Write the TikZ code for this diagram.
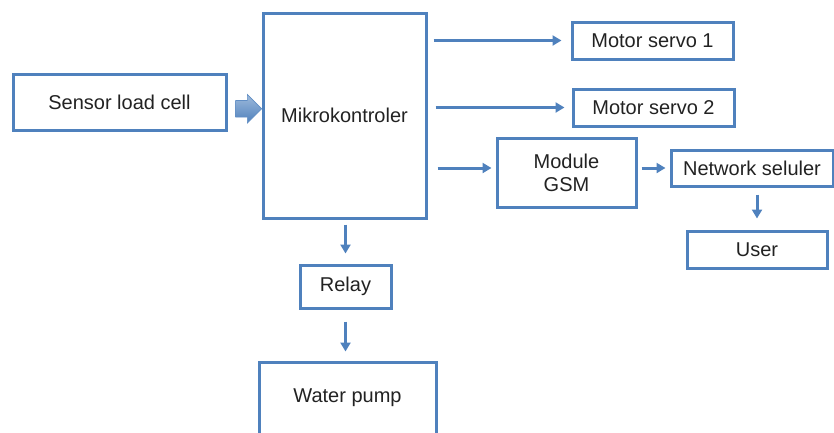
\documentclass[tikz,border=0pt]{standalone}
\usepackage{fontspec}
\setmainfont{Liberation Sans}
\usetikzlibrary{arrows.meta,calc,shapes.arrows}
\definecolor{lineblue}{HTML}{4F81BD}
\definecolor{txtgray}{HTML}{222222}

\begin{document}
\begin{tikzpicture}[x=1pt,y=-1pt,
    blok/.style={draw=lineblue, line width=3pt, text=txtgray, inner sep=0pt,
        align=center, font=\fontsize{20}{23}\selectfont},
    panah/.style={draw=lineblue, line width=3pt, -{Triangle[length=9pt,width=10pt]}}]
    \useasboundingbox (0,0) rectangle (834,432);
    % Blocks
    \node[blok, minimum width=213pt, minimum height=56pt] (sensor) at (119.5,102) {Sensor load cell};
    \node[blok, minimum width=163pt, minimum height=205pt] (micro) at (344.5,115.5) {Mikrokontroler};
    \node[blok, minimum width=161pt, minimum height=37pt] (servoa) at (652.5,40.5) {Motor servo 1};
    \node[blok, minimum width=161pt, minimum height=37pt] (servob) at (653.5,107.5) {Motor servo 2};
    \node[blok, minimum width=139pt, minimum height=69pt] (gsm) at (566.5,172.5) {Module\\GSM};
    \node[blok, minimum width=162pt, minimum height=36pt] (net) at (752,168) {Network seluler};
    \node[blok, minimum width=140pt, minimum height=37pt] (user) at (757,249.5) {User};
    \node[blok, minimum width=91pt, minimum height=43pt] (relay) at (345.5,286.5) {Relay};
    \node[blok, minimum width=177pt, minimum height=72pt] (pump) at (347.5,398) {Water pump};
    % Input arrow
    \node[single arrow, draw=lineblue!90, line width=0.6pt, top color=lineblue!55, bottom color=lineblue,
        minimum height=26pt, inner xsep=0pt, inner ysep=8pt, single arrow head extend=6pt]
        (inarrow) at ($(sensor.east)!0.5!(micro.west)$) {};
    % Connectors
    \draw[panah, shorten <=6pt, shorten >=9pt] (micro.east |- servoa.west) -- (servoa.west);
    \draw[panah, shorten <=8pt, shorten >=7pt] (micro.east |- servob.west) -- (servob.west);
    \draw[panah, shorten <=10pt, shorten >=4pt] (micro.east |- net.west) -- (gsm.west |- net.west);
    \draw[panah, shorten <=4pt, shorten >=4pt] (gsm.east |- net.west) -- (net.west);
    \draw[panah, shorten <=7pt, shorten >=11pt] (net.south -| user.north) -- (user.north);
    \draw[panah, shorten <=5pt, shorten >=10pt] (micro.south -| relay.north) -- (relay.north);
    \draw[panah, shorten <=12pt, shorten >=9pt] (relay.south) -- (relay.south |- pump.north);
\end{tikzpicture}
\end{document}
